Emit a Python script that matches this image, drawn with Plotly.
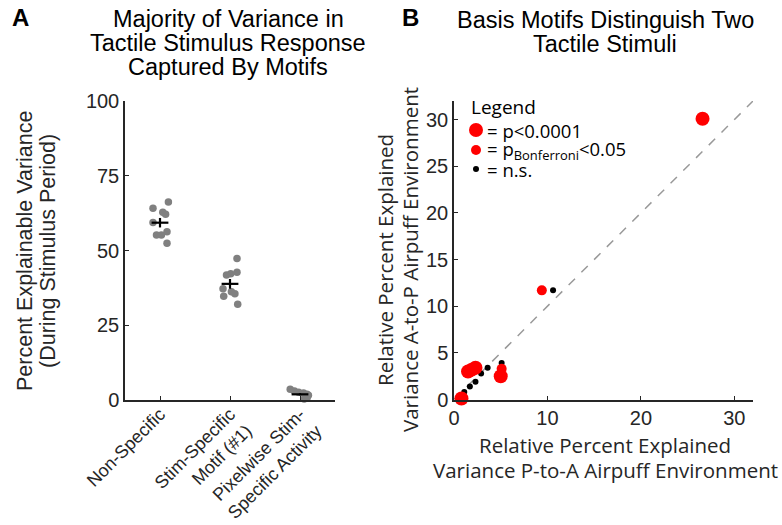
import numpy as np
import plotly.graph_objects as go

W, H = 782, 525

# ---------------- Panel A data ----------------
categories = ["Non-Specific", "Stim-Specific<br>Motif (#1)", "Pixelwise Stim-<br>Specific Activity"]
nonspec_vals = [66.2, 64.1, 62.8, 62.1, 59.4, 55.2, 55.2, 56.3, 52.4]
nonspec_jit = [0.12, -0.10, 0.04, 0.08, -0.10, -0.05, 0.02, 0.10, 0.10]
stimmotif_vals = [47.3, 42.7, 41.8, 42.2, 37.2, 36.2, 35.5, 34.7, 32.0]
stimmotif_jit = [0.10, 0.10, -0.05, 0.01, -0.10, 0.02, 0.07, -0.09, 0.11]
pixel_vals = [3.6, 3.0, 2.6, 2.3, 1.9, 1.6, 1.2, 0.6, 0.3]
pixel_jit = [-0.14, -0.08, -0.02, 0.05, 0.10, 0.12, 0.08, 0.10, 0.06]
a_yticks = [0, 25, 50, 75, 100]

# ---------------- Panel B data ----------------
big_x = [0.8, 1.5, 1.9, 2.3, 5.0, 26.6]
big_y = [0.1, 3.0, 3.2, 3.4, 2.5, 30.1]
med_x = [9.4, 5.1]
med_y = [11.7, 3.3]
ns_x = [10.6, 5.1, 1.1, 1.7, 2.3, 2.9, 3.6]
ns_y = [11.7, 3.9, 0.8, 1.4, 1.9, 2.8, 3.4]
b_xticks = [0, 10, 20, 30]
b_yticks = [0, 5, 10, 15, 20, 25, 30]
b_max = 32

legend_labels = ["= p<0.0001", "= p<sub>Bonferroni</sub><0.05", "= n.s."]

AX = "#262626"
FONT = "Liberation Sans, Arial, sans-serif"
FONT2 = "Open Sans, Noto Sans, sans-serif"
RED = "#ff0000"
BIG, MED, SMALL = 14, 10, 6

fig = go.Figure()

groups = [nonspec_vals, stimmotif_vals, pixel_vals]
jits = [nonspec_jit, stimmotif_jit, pixel_jit]
for i, (vals, jit) in enumerate(zip(groups, jits)):
    xs = [i + 1 + j for j in jit]
    fig.add_trace(go.Scatter(x=xs, y=vals, mode="markers", xaxis="x", yaxis="y",
                             marker=dict(color="#808080", size=7.5), showlegend=False,
                             hoverinfo="skip", cliponaxis=False))
means = [float(np.mean(v)) for v in groups]
sems = [float(np.std(v, ddof=1) / np.sqrt(len(v))) for v in groups]
fig.add_trace(go.Scatter(x=[1, 2, 3], y=means, mode="markers", xaxis="x", yaxis="y",
                         marker=dict(symbol="line-ew-open", size=12, color="black",
                                     line=dict(color="black", width=2.2)),
                         error_y=dict(type="data", array=sems, color="black",
                                      thickness=2.2, width=0),
                         showlegend=False, hoverinfo="skip", cliponaxis=False))

# Panel B
fig.add_trace(go.Scatter(x=[0, b_max], y=[0, b_max], mode="lines", xaxis="x2", yaxis="y2",
                         line=dict(color="#999999", width=1.5, dash="dash"),
                         showlegend=False, hoverinfo="skip"))
fig.add_trace(go.Scatter(x=ns_x, y=ns_y, mode="markers", xaxis="x2", yaxis="y2",
                         marker=dict(color="black", size=SMALL), name=legend_labels[2],
                         showlegend=False, cliponaxis=False))
fig.add_trace(go.Scatter(x=med_x, y=med_y, mode="markers", xaxis="x2", yaxis="y2",
                         marker=dict(color=RED, size=MED), name=legend_labels[1],
                         showlegend=False, cliponaxis=False))
fig.add_trace(go.Scatter(x=big_x, y=big_y, mode="markers", xaxis="x2", yaxis="y2",
                         marker=dict(color=RED, size=BIG), name=legend_labels[0],
                         showlegend=False, cliponaxis=False))

def px_x(a, b):
    return [a / W, b / W]

def px_y(top, bottom):
    return [1 - bottom / H, 1 - top / H]

axis_common = dict(showline=True, linecolor=AX, linewidth=1.5, ticks="inside",
                   ticklen=4, tickcolor=AX, tickwidth=1.2, showgrid=False,
                   zeroline=False, mirror=False, automargin=False,
                   tickfont=dict(family=FONT, size=20, color=AX))
xa_common = dict(axis_common)
xa_common["tickfont"] = dict(family=FONT, size=18, color=AX)

fig.update_layout(
    width=W, height=H, margin=dict(l=0, r=0, t=0, b=0, autoexpand=False),
    paper_bgcolor="white", plot_bgcolor="white",
    xaxis=dict(domain=px_x(125, 335), range=[0.5, 3.5], tickvals=[1, 2, 3],
               ticktext=categories, tickangle=-45, anchor="y", ticklabelstandoff=-5,
               **xa_common),
    yaxis=dict(domain=px_y(101, 400), range=[0, 100], tickvals=a_yticks, anchor="x",
               **axis_common),
    xaxis2=dict(domain=px_x(454, 753), range=[0, b_max], tickvals=b_xticks, anchor="y2",
                **axis_common),
    yaxis2=dict(domain=px_y(101, 399.5), range=[0, b_max], tickvals=b_yticks, anchor="x2",
                **axis_common),
    showlegend=False,
)

def add_text(text, xpx, ypx, size, family=FONT, angle=0, color="black", bold=False,
             xanchor="center"):
    fig.add_annotation(xref="paper", yref="paper", x=xpx / W, y=1 - ypx / H,
                       text=f"<b>{text}</b>" if bold else text, showarrow=False,
                       xanchor=xanchor, yanchor="middle", textangle=angle,
                       font=dict(family=family, size=size, color=color))

# panel letters
add_text("A", 20, 18, 24, bold=True)
add_text("B", 410, 18, 24, bold=True)

# titles (tight MATLAB-like line spacing)
title_a = ["Majority of Variance in", "Tactile Stimulus Response", "Captured By Motifs"]
title_b = ["Basis Motifs Distinguish Two", "Tactile Stimuli"]
for k, line in enumerate(title_a):
    add_text(line, 228, 19 + 24 * k, 23.5)
for k, line in enumerate(title_b):
    add_text(line, 605, 20 + 24 * k, 23.5)

# axis titles
ya_lines = ["Percent Explainable Variance", "(During Stimulus Period)"]
for k, line in enumerate(ya_lines):
    add_text(line, 25 + 23 * k, 251, 21.5, angle=-90, color=AX)
xb_lines = ["Relative Percent Explained", "Variance P-to-A Airpuff Environment"]
for k, line in enumerate(xb_lines):
    add_text(line, 605, 445 + 25 * k, 20.5, family=FONT2, color=AX)
yb_lines = ["Relative Percent Explained", "Variance A-to-P Airpuff Environment"]
for k, line in enumerate(yb_lines):
    add_text(line, 385 + 25 * k, 260, 20.5, family=FONT2, angle=-90, color=AX)

# legend box (drawn as key symbols + text)
add_text("Legend", 469, 107, 19, family=FONT2, xanchor="left")
key_sizes = [BIG, MED, SMALL]
key_colors = [RED, RED, "black"]
key_y = [130, 150, 169]
for lab, sz, col, yy in zip(legend_labels, key_sizes, key_colors, key_y):
    cx = 476
    fig.add_shape(type="circle", xref="paper", yref="paper",
                  x0=(cx - sz / 2) / W, x1=(cx + sz / 2) / W,
                  y0=1 - (yy + sz / 2) / H, y1=1 - (yy - sz / 2) / H,
                  fillcolor=col, line=dict(width=0))
    add_text(lab, 485, yy, 18.5, family=FONT2, xanchor="left")

fig.write_html("out.html")
